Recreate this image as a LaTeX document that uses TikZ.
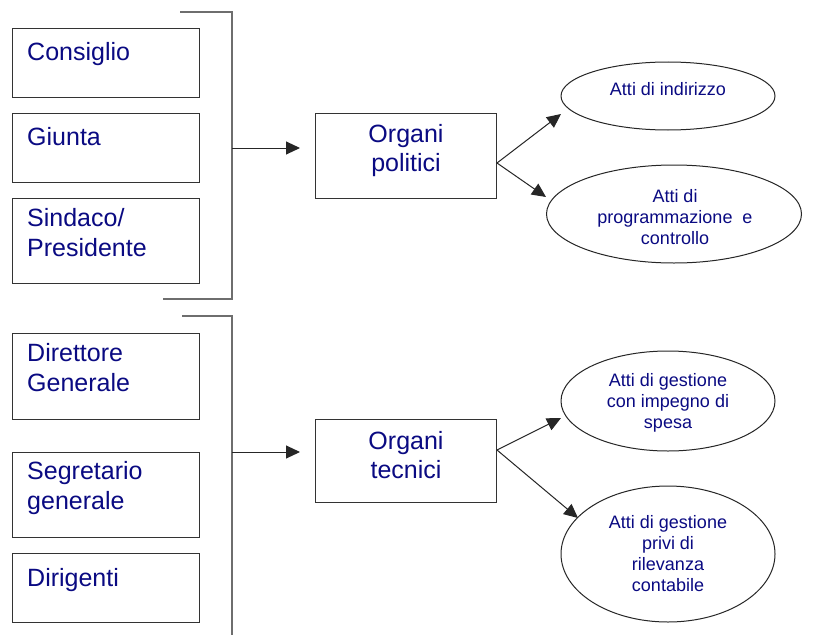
\documentclass[tikz,border=0pt]{standalone}
\usepackage{fontspec}
\setmainfont{Liberation Sans}
\usetikzlibrary{shapes.geometric,arrows.meta}
\definecolor{txt}{RGB}{10,10,130}
\definecolor{brk}{RGB}{110,110,110}
\begin{document}
\begin{tikzpicture}[x=1pt,y=-1pt,
  lbox/.style={draw=black!80,line width=1pt,inner sep=0pt,anchor=north west},
  ltext/.style={text=txt,font=\fontsize{25}{30}\selectfont,anchor=base west,align=left,inner sep=0pt},
  otext/.style={text=txt,font=\fontsize{25}{29}\selectfont,align=center,inner sep=0pt},
  etext/.style={text=txt,font=\fontsize{18}{21}\selectfont,align=center,inner sep=0pt},
  ell/.style={draw=black!85,line width=1pt,ellipse,inner sep=0pt},
  brack/.style={draw=brk,line width=1.4pt},
  arr/.style={draw=black!85,line width=1pt,-{Triangle[length=14pt,width=13pt]}}]
\useasboundingbox[fill=white] (0,0) rectangle (821,634);

% ---- top group
\node[lbox,minimum width=187pt,minimum height=69pt] (b1) at (12,28) {};
\node[lbox,minimum width=187pt,minimum height=69pt] (b2) at (12,113) {};
\node[lbox,minimum width=187pt,minimum height=85pt] (b3) at (12,198) {};
\node[ltext] (t1) at (27,60) {Consiglio};
\node[ltext] (t2) at (27,145) {Giunta};
\node[ltext,anchor=north west] (t3) at (27,208) {Sindaco/\\Presidente};

\coordinate (k1a) at (180,12);
\coordinate (k1b) at (232,12);
\coordinate (k1c) at (232,299);
\coordinate (k1d) at (163,299);
\draw[brack] (k1a) -- (k1b) -- (k1c) -- (k1d);
\coordinate (k1m) at (232,148);
\coordinate (k1t) at (300,148);
\draw[arr] (k1m) -- (k1t);

\node[lbox,minimum width=181pt,minimum height=85pt] (op) at (315,113) {};
\node[otext] (opt) at (406,151) {Organi\\politici};

\node[ell,minimum width=214pt,minimum height=68pt] (e1) at (668,96) {};
\node[etext] (e1t) at (668,89) {Atti di indirizzo};
\node[ell,minimum width=255pt,minimum height=98pt] (e2) at (674,214) {};
\node[etext] (e2t) at (675,217) {Atti di\\programmazione\ \ e\\controllo};

\coordinate (ops) at (497,163);
\coordinate (e1a) at (561,114);
\coordinate (e2a) at (546,197);
\draw[arr] (ops) -- (e1a);
\draw[arr] (ops) -- (e2a);

% ---- bottom group
\node[lbox,minimum width=187pt,minimum height=86pt] (c1) at (12,333) {};
\node[lbox,minimum width=187pt,minimum height=85pt] (c2) at (12,452) {};
\node[lbox,minimum width=187pt,minimum height=69pt] (c3) at (12,553) {};
\node[ltext,anchor=north west] (s1) at (27,343) {Direttore\\Generale};
\node[ltext,anchor=north west] (s2) at (27,461) {Segretario\\generale};
\node[ltext] (s3) at (27,586) {Dirigenti};

\coordinate (k2a) at (182,316);
\coordinate (k2b) at (232,316);
\coordinate (k2c) at (232,640);
\draw[brack] (k2a) -- (k2b) -- (k2c);
\coordinate (k2m) at (232,452);
\coordinate (k2t) at (300,452);
\draw[arr] (k2m) -- (k2t);

\node[lbox,minimum width=181pt,minimum height=83pt] (ot) at (315,419) {};
\node[otext] (ott) at (406,455) {Organi\\tecnici};

\node[ell,minimum width=214pt,minimum height=100pt] (e3) at (668,401) {};
\node[etext] (e3t) at (668,403) {Atti di gestione\\con impegno di\\spesa};
\node[ell,minimum width=214pt,minimum height=136pt] (e4) at (668,554) {};
\node[etext] (e4t) at (668,554) {Atti di gestione\\privi di\\rilevanza\\contabile};

\coordinate (ots) at (497,450);
\coordinate (e3a) at (561,418);
\coordinate (e4a) at (578,518);
\draw[arr] (ots) -- (e3a);
\draw[arr] (ots) -- (e4a);
\end{tikzpicture}
\end{document}
